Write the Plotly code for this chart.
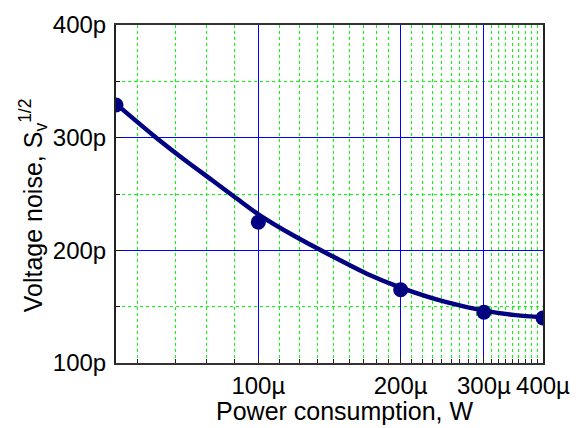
import plotly.graph_objects as go

# Measured points (W, V/sqrt(Hz))
power_W = [50e-6, 100e-6, 200e-6, 300e-6, 400e-6]
noise_V = [329e-12, 225e-12, 165e-12, 145e-12, 140e-12]

# Fitted curve
fit_power_W = [50e-6, 60e-6, 70e-6, 80e-6, 90e-6, 100e-6, 120e-6, 140e-6, 170e-6,
               200e-6, 250e-6, 300e-6, 350e-6, 400e-6]
fit_noise_V = [330e-12, 302e-12, 280e-12, 262e-12, 246e-12, 232e-12, 212e-12, 197e-12,
               179e-12, 167e-12, 154e-12, 146.5e-12, 142.5e-12, 140.5e-12]

x_tickvals = [100e-6, 200e-6, 300e-6, 400e-6]
x_ticktext = ["100µ", "200µ", "300µ", "400µ"]
y_tickvals = [100e-12, 200e-12, 300e-12, 400e-12]
y_ticktext = ["100p", "200p", "300p", "400p"]

x_title = "Power consumption, W"
y_title = "Voltage noise, S<sub>v</sub><sup>1/2</sup>"

# minor ticks every 100µ/9 (as in the original software)
x_minor = [k * 100e-6 / 9 for k in range(4, 37) if k % 9 != 0]
y_minor = [150e-12, 250e-12, 350e-12]

navy = "#000080"
font = "Liberation Sans, Arial, sans-serif"

fig = go.Figure()
fig.add_trace(go.Scatter(x=fit_power_W, y=fit_noise_V, mode="lines",
                         line=dict(color=navy, width=4.5, shape="spline", smoothing=0.8),
                         showlegend=False, hoverinfo="skip"))
fig.add_trace(go.Scatter(x=power_W, y=noise_V, mode="markers",
                         marker=dict(color=navy, size=15), showlegend=False))

# the page body adds an 8px margin, so the figure is 8px smaller than the window
fig.update_layout(
    width=576, height=420,
    margin=dict(l=108, r=41, t=17, b=65),
    paper_bgcolor="white", plot_bgcolor="white",
    font=dict(family=font, color="black"),
    xaxis=dict(
        type="log", range=[-4.30103, -3.39794], automargin=False,
        tickmode="array", tickvals=x_tickvals, ticktext=x_ticktext,
        tickfont=dict(size=24),
        ticks="inside", ticklen=7, tickcolor="#222",
        showgrid=True, gridcolor="#0000FF", gridwidth=1,
        showline=True, linecolor="#333", linewidth=2, mirror=True,
        zeroline=False,
        minor=dict(tickmode="array", tickvals=x_minor, ticks="inside", ticklen=4,
                   tickcolor="#222", showgrid=True, gridcolor="#00FF00",
                   griddash="dot", gridwidth=1),
    ),
    yaxis=dict(
        range=[100e-12, 400e-12], automargin=False,
        tickmode="array", tickvals=y_tickvals, ticktext=y_ticktext,
        tickfont=dict(size=24), ticklabelstandoff=3,
        ticks="inside", ticklen=7, tickcolor="#111",
        showgrid=True, gridcolor="#0000FF", gridwidth=1,
        showline=True, linecolor="#222", linewidth=2, mirror=True,
        zeroline=False,
        minor=dict(tickmode="array", tickvals=y_minor, ticks="inside", ticklen=4,
                   tickcolor="#111", showgrid=True, gridcolor="#00FF00",
                   griddash="dot", gridwidth=1),
    ),
    annotations=[
        dict(text=x_title, xref="paper", yref="paper", x=0.534, y=-0.142,
             xanchor="center", yanchor="middle", showarrow=False,
             font=dict(size=25)),
        dict(text=y_title, xref="paper", yref="paper", x=-0.194, y=0.467,
             xanchor="center", yanchor="middle", showarrow=False, textangle=-90,
             font=dict(size=25)),
    ],
)

fig.write_html("out.html")
